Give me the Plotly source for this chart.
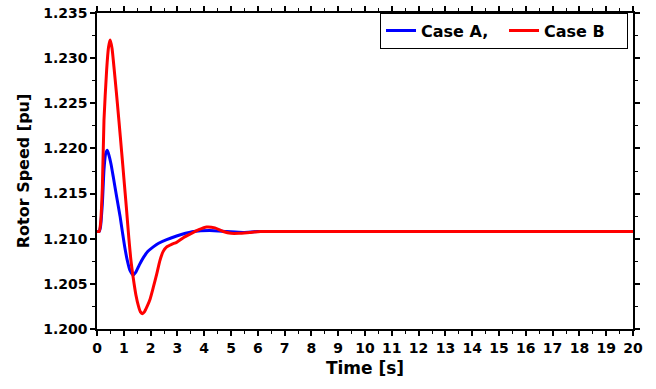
import plotly.graph_objects as go

# Case A (blue) samples: time [s], rotor speed [pu]
t_a = [0.0, 0.08, 0.13, 0.2, 0.26, 0.32, 0.385, 0.45, 0.52, 0.61, 0.73, 0.86, 0.95, 1.04, 1.13, 1.23, 1.35, 1.45, 1.58, 1.73, 1.9, 2.1, 2.3, 2.6, 2.97, 3.3, 3.6, 4.2, 4.83, 5.45, 6.0, 7.0, 10.0, 15.0, 20.0]
v_a = [1.2108, 1.2108, 1.2113, 1.2139, 1.2176, 1.2194, 1.2198, 1.2192, 1.2183, 1.2168, 1.2147, 1.2125, 1.2107, 1.2090, 1.2076, 1.2065, 1.2060, 1.2063, 1.2071, 1.2079, 1.2086, 1.2091, 1.2095, 1.2099, 1.2103, 1.2106, 1.2108, 1.2109, 1.2108, 1.2107, 1.2108, 1.2108, 1.2108, 1.2108, 1.2108]

# Case B (red) samples
t_b = [0.0, 0.08, 0.13, 0.2, 0.26, 0.36, 0.43, 0.49, 0.56, 0.63, 0.72, 0.82, 0.92, 1.0, 1.1, 1.19, 1.27, 1.35, 1.45, 1.55, 1.62, 1.69, 1.77, 1.87, 1.98, 2.1, 2.23, 2.35, 2.47, 2.6, 2.8, 2.97, 3.22, 3.47, 3.8, 4.09, 4.4, 4.71, 5.0, 5.3, 5.7, 6.1, 7.0, 10.0, 15.0, 20.0]
v_b = [1.2108, 1.2108, 1.2116, 1.2157, 1.2231, 1.2287, 1.2312, 1.2320, 1.2311, 1.2291, 1.2263, 1.2230, 1.2196, 1.2168, 1.2133, 1.2100, 1.2075, 1.2057, 1.2038, 1.2025, 1.2019, 1.2017, 1.2019, 1.2025, 1.2033, 1.2046, 1.2061, 1.2076, 1.2086, 1.2091, 1.2094, 1.2096, 1.2101, 1.2105, 1.2110, 1.2113, 1.2112, 1.2108, 1.2106, 1.2106, 1.2107, 1.2108, 1.2108, 1.2108, 1.2108, 1.2108]

x_ticks = list(range(0, 21))
y_ticks = [1.200, 1.205, 1.210, 1.215, 1.220, 1.225, 1.230, 1.235]

font_family = "DejaVu Sans, sans-serif"

fig = go.Figure()
fig.add_trace(go.Scatter(x=t_a, y=v_a, mode="lines", name="<b>Case A,</b>",
                         line=dict(color="#0000ff", width=3, shape="spline", smoothing=0.6)))
fig.add_trace(go.Scatter(x=t_b, y=v_b, mode="lines", name="<b>Case B</b>",
                         line=dict(color="#ff0000", width=3, shape="spline", smoothing=0.6)))

axis_common = dict(
    showline=True, linecolor="black", linewidth=1.5, mirror="allticks",
    ticks="outside", ticklen=5, tickwidth=1.5, tickcolor="black",
    showgrid=False, zeroline=False, automargin=False,
    tickfont=dict(family=font_family, size=14, color="black"),
)

fig.update_xaxes(
    range=[0, 20], tickvals=x_ticks, ticktext=[f"<b>{v}</b>" for v in x_ticks],
    minor=dict(ticks="outside", ticklen=3, tickwidth=1, tickcolor="black", dtick=0.5, showgrid=False),
    title=dict(text="<b>Time [s]</b>", font=dict(family=font_family, size=17, color="black"), standoff=8),
    **axis_common,
)
fig.update_yaxes(
    range=[1.2, 1.235], tickvals=y_ticks, ticktext=[f"<b>{v:.3f}</b>" for v in y_ticks],
    minor=dict(ticks="outside", ticklen=3, tickwidth=1, tickcolor="black", dtick=0.0025, showgrid=False),
    title=dict(text="<b>Rotor Speed [pu]</b>", font=dict(family=font_family, size=16, color="black"), standoff=10),
    **axis_common,
)

fig.update_layout(
    width=656, height=389,
    margin=dict(l=97, r=23, t=13, b=60),
    plot_bgcolor="white", paper_bgcolor="white",
    showlegend=True,
    legend=dict(
        orientation="h", x=0.9907, xanchor="right", y=0.944, yanchor="middle",
        bgcolor="white", bordercolor="black", borderwidth=1,
        font=dict(family=font_family, size=16, color="black"),
        itemwidth=30, tracegroupgap=0, entrywidth=78, entrywidthmode="pixels",
    ),
    font=dict(family=font_family, color="black"),
)

fig.write_html("out.html")
